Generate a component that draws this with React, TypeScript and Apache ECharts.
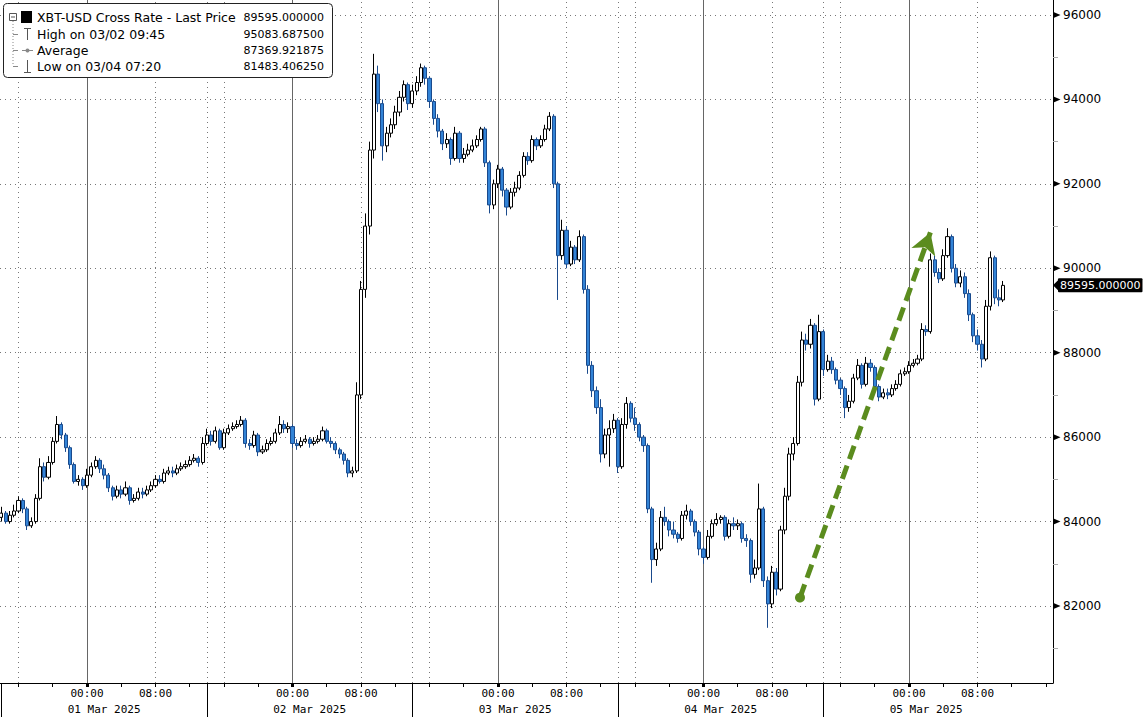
import React, { useEffect, useRef } from 'react';
import * as echarts from 'echarts';

// ---- data (30-minute candles, hours relative to 01 Mar 2025 00:00) ----
const FIRST_OPEN = 84100;
const START_HOUR = -10;
const STEP_HOURS = 0.5;

const closes = [
  84200, 84000, 84150, 84250, 84500, 84300, 83900, 84000, 84550, 85300,
  85050, 85400, 85900, 86300, 86050, 85750, 85350, 84950, 85000, 84850,
  85100, 85300, 85450, 85250, 85100, 84800, 84600, 84750, 84650, 84800,
  84500, 84550, 84700, 84650, 84750, 84850, 85000, 84950, 85150, 85200,
  85150, 85250, 85300, 85350, 85450, 85500, 85400, 85850, 86050, 85900,
  86150, 85750, 86100, 86200, 86250, 86300, 86400, 85850, 85800, 86050,
  85650, 85700, 85850, 85900, 86100, 86300, 86200, 86250, 85850, 85800,
  85900, 85950, 85850, 85900, 85950, 86150, 85900, 85850, 85700, 85600,
  85450, 85150, 85200, 87000, 89500, 91000, 92800, 94600, 93900, 92900,
  93200, 93400, 93700, 94050, 94350, 93900, 94200, 94400, 94750, 94500,
  93950, 93550, 93250, 92950, 93050, 92600, 93200, 92600, 92700, 92800,
  92900, 93050, 93300, 92500, 91500, 92000, 92350, 91850, 91450, 91800,
  91900, 92200, 92650, 92550, 93050, 92900, 93050, 93300, 93600, 92000,
  90300, 90900, 90100, 90500, 90200, 90750, 89500, 87700, 87100, 86700,
  85600, 86050, 86200, 86400, 85300, 86300, 86800, 86450, 86300, 86000,
  85800, 84300, 83100, 83350, 84100, 84000, 83800, 83700, 83600, 84150,
  84250, 84000, 83750, 83350, 83150, 83650, 83950, 84050, 84100, 83650,
  83950, 83900, 83950, 83600, 83550, 82750, 82900, 84300, 82600, 82050,
  82800, 82400, 83800, 84600, 85600, 85850, 87300, 88300, 88200, 88650,
  86900, 88500, 87600, 87800, 87600, 87350, 87150, 86700, 86850, 87400,
  87700, 87250, 87750, 87650, 87200, 86950, 87050, 87000, 87150, 87250,
  87500, 87550, 87700, 87750, 87850, 88550, 88500, 90200, 89900, 89750,
  90300, 90750, 90000, 89650, 89800, 89400, 88900, 88400, 88200, 87850,
  89100, 90250, 89300, 89250, 89595,
];

const highs = [
  84350, 84250, 84250, 84400, 84600, 84550, 84350, 84100, 84650, 85500,
  85400, 85550, 86000, 86500, 86350, 86100, 85800, 85400, 85100, 85050,
  85250, 85400, 85550, 85500, 85350, 85150, 84850, 84850, 84850, 84950,
  84850, 84650, 84800, 84800, 84850, 84950, 85100, 85100, 85250, 85300,
  85300, 85350, 85400, 85450, 85550, 85600, 85550, 86000, 86200, 86150,
  86250, 86200, 86200, 86300, 86350, 86400, 86500, 86450, 85950, 86150,
  86100, 85800, 85950, 86000, 86200, 86500, 86400, 86350, 86300, 85950,
  86000, 86050, 86000, 86000, 86050, 86250, 86200, 86000, 85900, 85750,
  85650, 85500, 85300, 87300, 89700, 91300, 93000, 95080, 94800, 94000,
  93350, 93550, 93850, 94200, 94450, 94400, 94350, 94550, 94850, 94800,
  94550, 94000, 93650, 93300, 93200, 93100, 93350, 93250, 92850, 92950,
  93050, 93150, 93350, 93350, 92550, 92100, 92450, 92400, 91900, 91900,
  92050, 92300, 92750, 92750, 93150, 93100, 93150, 93400, 93700, 93650,
  92050, 91150, 91000, 90650, 90550, 90900, 90800, 89600, 87800, 87200,
  86900, 86200, 86400, 86550, 86450, 86450, 86950, 86850, 86700, 86350,
  86050, 85850, 84350, 83500, 84250, 84350, 84050, 84000, 83750, 84250,
  84400, 84300, 84050, 83800, 83400, 83800, 84050, 84200, 84150, 84150,
  84050, 84100, 84050, 84000, 83700, 83600, 83100, 84900, 84350, 82700,
  82950, 82900, 83900, 84800, 85750, 86000, 87450, 88500, 88450, 88800,
  88700, 88900, 88550, 87950, 87900, 87650, 87400, 87200, 87000, 87500,
  87850, 87750, 87900, 87850, 87700, 87250, 87150, 87150, 87250, 87350,
  87600, 87650, 87800, 87850, 87950, 88700, 88650, 90350, 90300, 90000,
  90450, 90950, 90800, 90100, 89950, 89900, 89500, 88950, 88550, 88300,
  89250, 90400, 90300, 89500, 89700,
];

const lows = [
  84000, 83950, 83950, 84100, 84200, 84200, 83800, 83850, 83950, 84500,
  84950, 85000, 85350, 85850, 85950, 85650, 85250, 84900, 84850, 84750,
  84800, 85050, 85250, 85150, 85000, 84700, 84500, 84550, 84550, 84600,
  84400, 84450, 84500, 84550, 84600, 84700, 84800, 84900, 84900, 85100,
  85050, 85100, 85200, 85250, 85300, 85400, 85300, 85350, 85800, 85800,
  85850, 85700, 85700, 86050, 86150, 86200, 86250, 85750, 85700, 85750,
  85550, 85600, 85650, 85800, 85850, 86050, 86100, 86100, 85750, 85700,
  85750, 85850, 85750, 85800, 85850, 85900, 85850, 85750, 85600, 85500,
  85350, 85050, 85050, 85150, 86900, 89300, 90800, 92600, 93700, 92550,
  92750, 93100, 93300, 93600, 93950, 93750, 93800, 94100, 94300, 94350,
  93800, 93400, 93100, 92800, 92850, 92450, 92550, 92500, 92500, 92650,
  92750, 92850, 93000, 92400, 91300, 91400, 91900, 91700, 91250, 91400,
  91700, 91850, 92150, 92450, 92500, 92800, 92850, 93000, 93250, 91900,
  89250, 90200, 90000, 90050, 90100, 90150, 89400, 87500, 86950, 86550,
  85400, 85500, 85300, 86100, 85150, 85250, 86200, 86350, 86150, 85900,
  85650, 84200, 82550, 82950, 83300, 83900, 83650, 83600, 83500, 83550,
  84050, 83900, 83650, 83200, 83000, 83100, 83600, 83900, 83950, 83550,
  83600, 83800, 83800, 83500, 83400, 82550, 82650, 82850, 82450, 81483,
  81950, 82250, 82350, 83700, 84500, 85450, 85800, 87200, 88050, 88100,
  86750, 86850, 87450, 87550, 87500, 87250, 87000, 86450, 86600, 86800,
  87350, 87150, 87200, 87550, 87100, 86850, 86900, 86900, 86950, 87100,
  87200, 87450, 87500, 87650, 87700, 87800, 88400, 88450, 89800, 89650,
  89700, 90250, 89900, 89550, 89550, 89300, 88750, 88250, 88050, 87650,
  87800, 89000, 89150, 89100, 89200,
];

// axes
const X_MIN = -10.16;
const X_MAX = 112.82;
const Y_MIN = 80176;
const Y_MAX = 96355;

const hourTicks = [-8, -4, 0, 4, 8, 12, 16, 20, 24, 28, 32, 36, 40, 44, 48, 52, 56, 60, 64, 68, 72, 76, 80, 84, 88, 92, 96, 100, 104, 108, 112];
const timeLabelValues = [0, 8, 24, 32, 48, 56, 72, 80, 96, 104];
const majorTicks = [0, 24, 48, 72, 96];
const daySeparators = [-10, 14, 38, 62, 86];
const dayCenters = [2, 26, 50, 74, 98];
const dayLabels = ['01 Mar 2025', '02 Mar 2025', '03 Mar 2025', '04 Mar 2025', '05 Mar 2025'];
const solidGrid = [0, 24, 48, 72, 96];
const dottedGrid = [-8, 8, 14, 16, 32, 38, 40, 56, 62, 64, 80, 86, 88, 104];
const yTicks = [82000, 84000, 86000, 88000, 90000, 92000, 94000, 96000];
const yMinorTicks = [81000, 83000, 85000, 87000, 89000, 91000, 93000, 95000];

// legend stats
const LAST_PRICE = 89595;
const legendRows = [
  { label: 'XBT-USD Cross Rate - Last Price', value: '89595.000000' },
  { label: 'High on 03/02 09:45', value: '95083.687500' },
  { label: 'Average', value: '87369.921875' },
  { label: 'Low on 03/04 07:20', value: '81483.406250' },
];

// trend arrow (hours, price)
const arrowStart = [83.27, 82200];
const arrowEnd = [98.5, 90850];

const FONT = 'DejaVu Sans';
const MONO = 'DejaVu Sans Mono';

export default function App() {
  const ref = useRef<HTMLDivElement>(null);

  useEffect(() => {
    document.body.style.margin = '0';
    const chart = echarts.init(ref.current!, null, { renderer: 'svg' });

    const candles = closes.map((c, i) => {
      const o = i === 0 ? FIRST_OPEN : closes[i - 1];
      return [START_HOUR + STEP_HOURS * i, o, c, lows[i], highs[i]];
    });

    const rowY = [17, 34, 50, 66];
    const graphic: any[] = [
      { type: 'rect', z: 100, shape: { x: 3.5, y: 3.5, width: 329, height: 74, r: 4 }, style: { fill: '#fff', stroke: '#222', lineWidth: 1 } },
      { type: 'rect', z: 101, shape: { x: 9.5, y: 13.5, width: 7, height: 7 }, style: { fill: '#fff', stroke: '#555', lineWidth: 1 } },
      { type: 'line', z: 101, shape: { x1: 11, y1: 17, x2: 15, y2: 17 }, style: { stroke: '#555', lineWidth: 1 } },
      { type: 'rect', z: 101, shape: { x: 21, y: 11, width: 11, height: 12 }, style: { fill: '#000' } },
      { type: 'line', z: 101, shape: { x1: 13, y1: 21, x2: 13, y2: 66 }, style: { stroke: '#888', lineWidth: 1, lineDash: [1, 2] } },
      { type: 'line', z: 101, shape: { x1: 13, y1: 34.5, x2: 18, y2: 34.5 }, style: { stroke: '#888', lineWidth: 1 } },
      { type: 'line', z: 101, shape: { x1: 13, y1: 50.5, x2: 18, y2: 50.5 }, style: { stroke: '#888', lineWidth: 1 } },
      { type: 'line', z: 101, shape: { x1: 13, y1: 66.5, x2: 18, y2: 66.5 }, style: { stroke: '#888', lineWidth: 1 } },
      // High icon
      { type: 'line', z: 101, shape: { x1: 24, y1: 28.5, x2: 31, y2: 28.5 }, style: { stroke: '#555', lineWidth: 1 } },
      { type: 'line', z: 101, shape: { x1: 27.5, y1: 28, x2: 27.5, y2: 40 }, style: { stroke: '#555', lineWidth: 1 } },
      // Average icon
      { type: 'line', z: 101, shape: { x1: 22, y1: 50.5, x2: 33, y2: 50.5 }, style: { stroke: '#888', lineWidth: 1 } },
      { type: 'circle', z: 101, shape: { cx: 27.5, cy: 50.5, r: 2 }, style: { fill: '#888' } },
      // Low icon
      { type: 'line', z: 101, shape: { x1: 27.5, y1: 60, x2: 27.5, y2: 72 }, style: { stroke: '#555', lineWidth: 1 } },
      { type: 'line', z: 101, shape: { x1: 24, y1: 72.5, x2: 31, y2: 72.5 }, style: { stroke: '#555', lineWidth: 1 } },
    ];
    legendRows.forEach((r, i) => {
      graphic.push({
        type: 'text', z: 102, x: 37, y: rowY[i],
        style: { text: r.label, fill: '#000', font: `12.5px "${FONT}"`, textAlign: 'left', textVerticalAlign: 'middle' },
      });
      graphic.push({
        type: 'text', z: 102, x: 324, y: rowY[i],
        style: { text: r.value, fill: '#000', font: `11px "${FONT}"`, textAlign: 'right', textVerticalAlign: 'middle' },
      });
    });

    const gridLines = [
      ...solidGrid.map((v) => ({ xAxis: v, lineStyle: { color: '#666', width: 1, type: 'solid' } })),
      ...dottedGrid.map((v) => ({ xAxis: v, lineStyle: { color: '#777', width: 1, type: [1, 4] } })),
    ];

    const pad2 = (n: number) => (n < 10 ? '0' + n : '' + n);

    const option: any = {
      animation: false,
      backgroundColor: '#fff',
      grid: { left: 0, right: 92, top: 0, bottom: 34 },
      xAxis: [
        {
          type: 'value', min: X_MIN, max: X_MAX, position: 'bottom',
          axisLine: { show: true, onZero: false, lineStyle: { color: '#000', width: 1 } },
          axisTick: { show: true, customValues: hourTicks, length: 4, lineStyle: { color: '#000', width: 1 } },
          axisLabel: {
            show: true, customValues: timeLabelValues, margin: 5,
            formatter: (v: number) => pad2(((v % 24) + 24) % 24) + ':00',
            fontFamily: MONO, fontSize: 11, color: '#000',
          },
          splitLine: { show: false },
        },
        {
          type: 'value', min: X_MIN, max: X_MAX, position: 'bottom',
          axisLine: { show: false, onZero: false },
          axisTick: { show: true, customValues: daySeparators, length: 34, lineStyle: { color: '#000', width: 1 } },
          axisLabel: {
            show: true, customValues: dayCenters, margin: 21,
            formatter: (v: number) => dayLabels[dayCenters.indexOf(v)] ?? '',
            fontFamily: MONO, fontSize: 11, color: '#000',
          },
          splitLine: { show: false },
        },
        {
          type: 'value', min: X_MIN, max: X_MAX, position: 'bottom',
          axisLine: { show: false, onZero: false },
          axisTick: { show: true, customValues: majorTicks, length: 4, lineStyle: { color: '#000', width: 3 } },
          axisLabel: { show: false },
          splitLine: { show: false },
        },
      ],
      yAxis: [
        {
          type: 'value', position: 'right', min: Y_MIN, max: Y_MAX,
          axisLine: { show: true, onZero: false, lineStyle: { color: '#000', width: 1 } },
          axisTick: { show: true, customValues: yTicks, length: 1, lineStyle: { color: '#000', width: 1 } },
          axisLabel: {
            show: true, customValues: yTicks, margin: 10,
            fontFamily: FONT, fontSize: 12, color: '#000',
            formatter: (v: number) => String(v),
          },
          splitLine: { show: true, lineStyle: { color: '#777', width: 1, type: [1, 4] } },
        },
        {
          type: 'value', position: 'right', min: Y_MIN, max: Y_MAX,
          axisLine: { show: false, onZero: false },
          axisTick: { show: true, customValues: yMinorTicks, length: 5, lineStyle: { color: '#aaa', width: 1 } },
          axisLabel: { show: false },
          splitLine: { show: false },
        },
      ],
      graphic,
      series: [
        {
          type: 'line', xAxisIndex: 0, yAxisIndex: 0, data: [], z: 1, silent: true,
          markLine: {
            silent: true, symbol: 'none', z: 1, animation: false,
            label: { show: false },
            data: [
              ...gridLines,
              {
                yAxis: LAST_PRICE,
                lineStyle: { width: 0, color: 'rgba(0,0,0,0)' },
                label: {
                  show: true, position: 'end', distance: 5,
                  formatter: '89595.000000',
                  backgroundColor: '#000', color: '#fff', padding: [2, 2, 1, 2],
                  fontFamily: FONT, fontSize: 11, borderRadius: 1,
                },
              },
            ],
          },
          markPoint: {
            silent: true, animation: false,
            label: { show: false },
            data: [
              {
                coord: [X_MAX, LAST_PRICE],
                symbol: 'path://M10,0 L0,5 L10,10 Z', symbolSize: [6, 12], symbolOffset: [3, 0],
                itemStyle: { color: '#000' },
              },
              ...yTicks.map((v) => ({
                coord: [X_MAX, v],
                symbol: 'path://M0,0 L10,5 L0,10 Z', symbolSize: [7, 6], symbolOffset: [4, 0],
                itemStyle: { color: '#000' },
              })),
            ],
          },
        },
        {
          type: 'candlestick', xAxisIndex: 0, yAxisIndex: 0, z: 2,
          data: candles,
          barWidth: 3.6,
          itemStyle: {
            color: '#ffffff', borderColor: '#000000',
            color0: '#3283d6', borderColor0: '#1a4a8c', borderWidth: 1,
          },
          markLine: {
            silent: true, animation: false, z: 6,
            label: { show: false },
            data: [
              [
                {
                  coord: arrowStart, symbol: 'circle', symbolSize: 10,
                  lineStyle: { color: '#5b8c1e', width: 5, type: [14, 7] },
                },
                { coord: arrowEnd, symbol: 'arrow', symbolSize: [19, 21] },
              ],
            ],
            itemStyle: { color: '#5b8c1e' },
          },
        },
      ],
    };

    chart.setOption(option);
    return () => chart.dispose();
  }, []);

  return <div ref={ref} style={{ width: 1145, height: 717 }} />;
}
